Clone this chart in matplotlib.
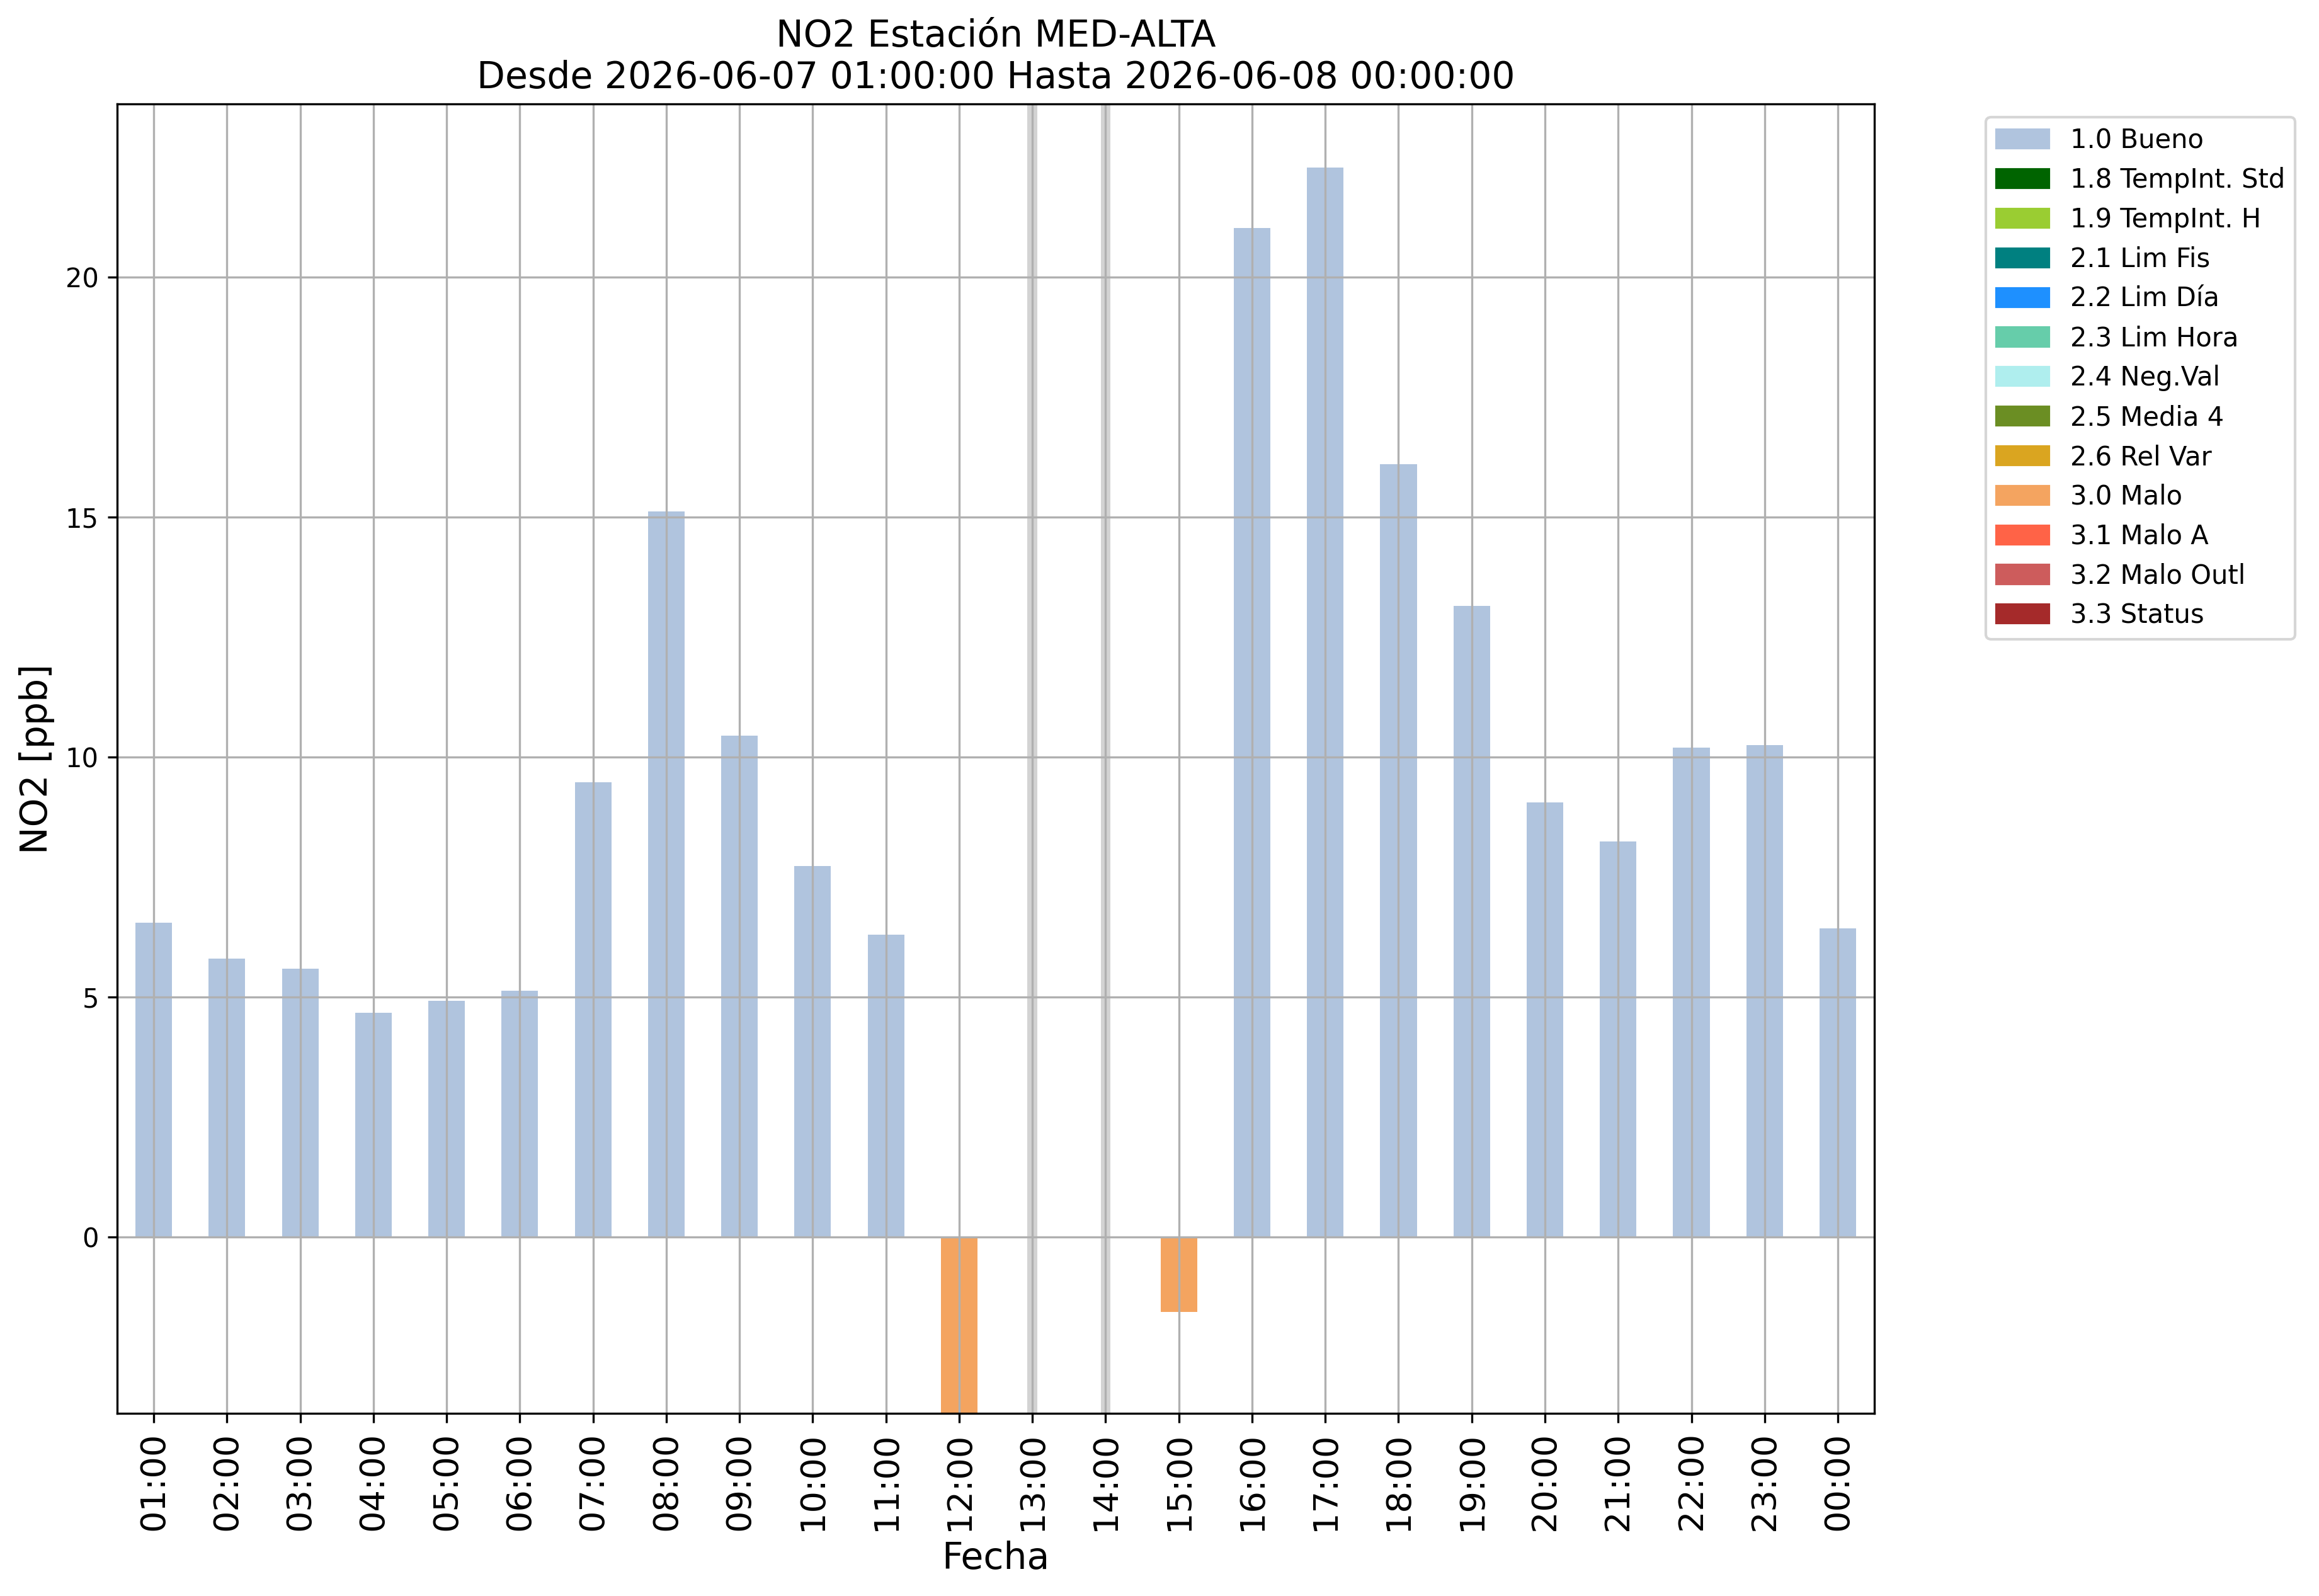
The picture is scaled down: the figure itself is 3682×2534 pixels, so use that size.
import numpy as np
import matplotlib.pyplot as plt
from matplotlib.patches import Patch

# Datos horarios NO2 (ppb) y flags de calidad
horas = ['01:00', '02:00', '03:00', '04:00', '05:00', '06:00', '07:00', '08:00',
         '09:00', '10:00', '11:00', '12:00', '13:00', '14:00', '15:00', '16:00',
         '17:00', '18:00', '19:00', '20:00', '21:00', '22:00', '23:00', '00:00']
no2 = [6.55, 5.81, 5.60, 4.67, 4.93, 5.13, 9.48, 15.12, 10.45, 7.73, 6.30, -4.3,
       np.nan, np.nan, -1.55, 21.02, 22.28, 16.10, 13.15, 9.06, 8.24, 10.20, 10.25, 6.43]
flags = [1.0, 1.0, 1.0, 1.0, 1.0, 1.0, 1.0, 1.0, 1.0, 1.0, 1.0, 3.0,
         np.nan, np.nan, 3.0, 1.0, 1.0, 1.0, 1.0, 1.0, 1.0, 1.0, 1.0, 1.0]

flag_codes = [1.0, 1.8, 1.9, 2.1, 2.2, 2.3, 2.4, 2.5, 2.6, 3.0, 3.1, 3.2, 3.3]
flag_names = ['1.0 Bueno', '1.8 TempInt. Std', '1.9 TempInt. H', '2.1 Lim Fis',
              '2.2 Lim Día', '2.3 Lim Hora', '2.4 Neg.Val', '2.5 Media 4',
              '2.6 Rel Var', '3.0 Malo', '3.1 Malo A', '3.2 Malo Outl', '3.3 Status']
flag_colors = ['lightsteelblue', 'darkgreen', 'yellowgreen', 'teal', 'dodgerblue',
               'mediumaquamarine', 'paleturquoise', 'olivedrab', 'goldenrod',
               'sandybrown', 'tomato', 'indianred', 'brown']

color_map = dict(zip(flag_codes, flag_colors))
x = np.arange(len(horas))
colores = [color_map.get(f, 'white') for f in flags]

fig = plt.figure(figsize=(3682 / 300, 2534 / 300), dpi=300)
ax = fig.add_axes([0.0505, 0.1144, 0.7578, 0.8205])

# horas sin dato
for i, v in enumerate(no2):
    if np.isnan(v):
        ax.axvspan(i - 0.0675, i + 0.0675, color='lightgray', lw=0, zorder=0.5)

ax.bar(x, no2, width=0.5, color=colores)

ax.set_xticks(x)
ax.set_xticklabels(horas, rotation=90, fontsize=13)
ax.set_xlim(-0.5, len(horas) - 0.5)
ax.set_ylim(-3.67, 23.61)
ax.grid(True)

ax.set_title('NO2 Estación MED-ALTA\nDesde 2026-06-07 01:00:00 Hasta 2026-06-08 00:00:00', fontsize=14)
ax.set_xlabel('Fecha', fontsize=14)
ax.set_ylabel('NO2 [ppb]', fontsize=14)

handles = [Patch(color=c, label=n) for c, n in zip(flag_colors, flag_names)]
ax.legend(handles=handles, loc='upper left', bbox_to_anchor=(1.056, 1), fontsize=10)

fig.savefig('out.png', dpi=300)
